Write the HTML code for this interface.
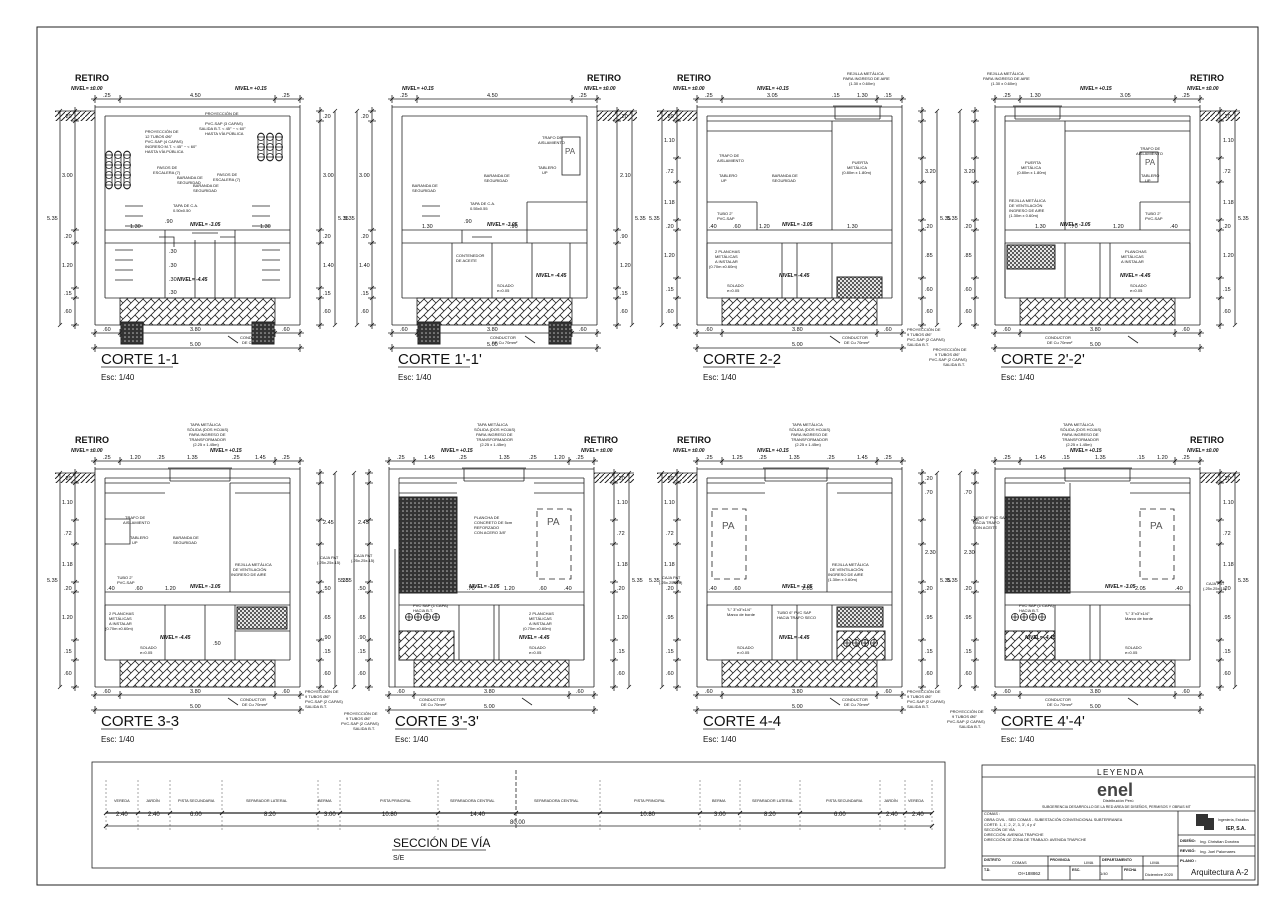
<!DOCTYPE html>
<html><head><meta charset="utf-8">
<style>
html,body{margin:0;padding:0;background:#fff;}
svg{display:block;font-family:"Liberation Sans",sans-serif;}
.s{fill:none;stroke:#222;stroke-width:0.8}
.t{fill:#111;font-size:5.5px}
.m{fill:#111;font-size:4px}
.n{fill:#111;font-size:5px;font-weight:bold;font-style:italic}
.ti{fill:#111;font-size:15px}
.es{fill:#111;font-size:8px}
.r{fill:#111;font-size:9px;font-weight:bold}
</style></head>
<body>
<svg width="1280" height="905" viewBox="0 0 1280 905" xmlns="http://www.w3.org/2000/svg">
<defs>
<pattern id="herr" width="8" height="8" patternUnits="userSpaceOnUse">
<path d="M0 8L8 0M-2 2L2 -2M6 10L10 6M0 0L4 4" stroke="#222" stroke-width="0.8"/>
</pattern>
<pattern id="gnd" width="5" height="5" patternUnits="userSpaceOnUse">
<path d="M0 5L5 0" stroke="#222" stroke-width="1"/>
</pattern>
<pattern id="dense" width="4" height="4" patternUnits="userSpaceOnUse">
<rect width="4" height="4" fill="#333"/><circle cx="2" cy="2" r="0.8" fill="#bbb"/>
</pattern>
<pattern id="mesh" width="4" height="4" patternUnits="userSpaceOnUse">
<path d="M0 0L4 4M4 0L0 4" stroke="#222" stroke-width="0.7"/>
</pattern>
<g id="frame">
<path class="s" stroke-width="1.2" d="M0 -2V218M205 -2V218M0 0H205"/>
<path class="s" stroke-width="1" d="M10 9V191M195 9V191M10 9H195M10 191H195"/>
<path class="s" stroke-width="2" d="M0 218H205"/>
<rect x="25" y="191" width="155" height="27" fill="url(#herr)" stroke="#222" stroke-width="0.8"/>
<path class="s" d="M10 123H195M10 136H195" stroke-width="0.7"/>
<path class="s" d="M-4 226H209M0 222V230M25 222V230M180 222V230M205 222V230M-2 228l4 -4M23 228l4 -4M178 228l4 -4M203 228l4 -4"/>
<path class="s" d="M-4 241H209M0 237V245M205 237V245M-2 243l4 -4M203 243l4 -4"/>
<path class="s" d="M-4 -8H209M0 -12V-4M25 -12V-4M180 -12V-4M205 -12V-4M-2 -6l4 -4M23 -6l4 -4M178 -6l4 -4M203 -6l4 -4"/>
<path class="s" d="M-35 4V218M240 4V218M-37 6l4 -4M-37 220l4 -4M238 6l4 -4M238 220l4 -4"/>
<path class="s" d="M6 260H78"/>
<path class="s" d="M133 229l10 7" stroke-width="0.5"/>
</g>
<g id="vA"><path class="s" d="M0 0V222M-4 4H4M-4 14H4M-4 123H4M-4 136H4M-4 181H4M-4 191H4M-4 218H4M-2 6l4 -4M-2 16l4 -4M-2 125l4 -4M-2 138l4 -4M-2 183l4 -4M-2 193l4 -4M-2 220l4 -4"/></g>
<g id="vB"><path class="s" d="M0 0V222M-4 4H4M-4 14H4M-4 51H4M-4 75H4M-4 113H4M-4 123H4M-4 171H4M-4 191H4M-4 218H4M-2 6l4 -4M-2 16l4 -4M-2 53l4 -4M-2 77l4 -4M-2 115l4 -4M-2 125l4 -4M-2 173l4 -4M-2 193l4 -4M-2 220l4 -4"/></g>
<g id="pc4"><rect x="-3" y="-4" width="6" height="38" rx="3" class="s" stroke-width="0.6"/><circle cx="0" cy="0" r="3.5" class="s"/><circle cx="0" cy="10" r="3.5" class="s"/><circle cx="0" cy="20" r="3.5" class="s"/><circle cx="0" cy="30" r="3.5" class="s"/><path class="s" d="M-4 0H4M-4 10H4M-4 20H4M-4 30H4"/></g>
<g id="pc3"><rect x="-3" y="-4" width="6" height="28" rx="3" class="s" stroke-width="0.6"/><circle cx="0" cy="0" r="3.5" class="s"/><circle cx="0" cy="10" r="3.5" class="s"/><circle cx="0" cy="20" r="3.5" class="s"/><path class="s" d="M-4 0H4M-4 10H4M-4 20H4"/></g>
<g id="p1"><circle cx="0" cy="0" r="3.5" class="s"/><path class="s" d="M-4 0H4M0 -4V4"/></g>
<g id="gl"><rect x="0" y="4" width="40" height="10" fill="url(#gnd)"/><path class="s" stroke-width="1.2" d="M0 4H40"/></g>
<g id="pa"><rect x="0" y="0" width="34" height="70" class="s" stroke-width="1" stroke-dasharray="6 4"/></g>
</defs>
<rect x="37" y="27" width="1221" height="858" fill="none" stroke="#222" stroke-width="1"/>

<!-- ============ CORTE 1-1 ============ -->
<g transform="translate(95,107)">
<use href="#frame"/><use href="#vA" x="-20"/><use href="#vA" x="225"/>
<use href="#gl" x="-40"/>
<text class="r" x="-20" y="-26">RETIRO</text>
<text class="n" x="-24" y="-17">NIVEL=  ±0.00</text><text class="n" x="140" y="-17">NIVEL=  +0.15</text>
<text class="t" x="8" y="-10">.25</text><text class="t" x="95" y="-10">4.50</text><text class="t" x="187" y="-10">.25</text>
<text class="t" x="-31" y="11">.20</text><text class="t" x="-33" y="70">3.00</text><text class="t" x="-31" y="131">.20</text><text class="t" x="-33" y="160">1.20</text><text class="t" x="-31" y="188">.15</text><text class="t" x="-31" y="206">.60</text>
<text class="t" x="228" y="11">.20</text><text class="t" x="228" y="70">3.00</text><text class="t" x="228" y="131">.20</text><text class="t" x="228" y="160">1.40</text><text class="t" x="228" y="188">.15</text><text class="t" x="228" y="206">.60</text>
<text class="t" x="-48" y="113">5.35</text><text class="t" x="243" y="113">5.35</text>
<text class="t" x="8" y="224">.60</text><text class="t" x="95" y="224">3.80</text><text class="t" x="187" y="224">.60</text><text class="t" x="95" y="239">5.00</text>
<text class="m" x="145" y="232">CONDUCTOR</text><text class="m" x="147" y="237">DE Cu 70mm²</text>
<text class="ti" x="6" y="257">CORTE 1-1</text><text class="es" x="6" y="273">Esc: 1/40</text>
<rect x="26" y="215" width="22" height="22" fill="url(#dense)" stroke="#222"/><rect x="157" y="215" width="22" height="22" fill="url(#dense)" stroke="#222"/>
<use href="#pc4" x="14" y="48"/><use href="#pc4" x="23" y="48"/><use href="#pc4" x="32" y="48"/>
<use href="#pc3" x="166" y="30"/><use href="#pc3" x="175" y="30"/><use href="#pc3" x="184" y="30"/>
<path class="s" stroke-width="1.5" d="M30 99H48M30 109H48M30 119H48M157 99H175M157 109H175M157 119H175M20 143H38M20 153H38M20 163H38M20 173H38M167 143H185M167 153H185M167 163H185M167 173H185"/>
<path class="s" d="M70 123V191M140 123V191M100 133V191M120 133V191M64 130H79V140M125 130H140V140"/>
<path class="s" d="M97 126H123" stroke-width="2"/>
<text class="n" x="95" y="119">NIVEL=  -3.05</text><text class="n" x="82" y="174">NIVEL=  -4.45</text>
<text class="m" x="50" y="26">PROYECCIÓN DE</text><text class="m" x="50" y="31">12 TUBOS Ø6"</text><text class="m" x="50" y="36">PVC-SAP (4 CAPAS)</text><text class="m" x="50" y="41">INGRESO M.T. &lt; 45° ~ &lt; 60°</text><text class="m" x="50" y="46">HASTA VÍA PÚBLICA</text>
<text class="m" x="110" y="8">PROYECCIÓN DE</text><text class="m" x="110" y="18">PVC-SAP (3 CAPAS)</text><text class="m" x="104" y="23">SALIDA B.T. &lt; 45° ~ &lt; 60°</text><text class="m" x="110" y="28">HASTA VÍA PÚBLICA</text>
<text class="m" x="62" y="62">PASOS DE</text><text class="m" x="58" y="67">ESCALERA (7)</text><text class="m" x="82" y="72">BARANDA DE</text><text class="m" x="82" y="77">SEGURIDAD</text>
<text class="m" x="122" y="69">PASOS DE</text><text class="m" x="118" y="74">ESCALERA (7)</text><text class="m" x="98" y="80">BARANDA DE</text><text class="m" x="98" y="85">SEGURIDAD</text>
<text class="m" x="78" y="100">TAPA DE C.A.</text><text class="m" x="78" y="105">0.50x0.50</text>
<text class="t" x="35" y="121">1.30</text><text class="t" x="165" y="121">1.30</text><text class="t" x="70" y="116">.90</text><text class="t" x="74" y="146">.30</text><text class="t" x="74" y="160">.30</text><text class="t" x="74" y="174">.30</text><text class="t" x="74" y="187">.30</text>
</g>

<!-- ============ CORTE 1'-1' ============ -->
<g transform="translate(392,107)">
<use href="#frame"/><use href="#vA" x="-20"/><use href="#vA" x="225"/>
<use href="#gl" x="205"/>
<text class="r" x="195" y="-26">RETIRO</text>
<text class="n" x="192" y="-17">NIVEL=  ±0.00</text><text class="n" x="10" y="-17">NIVEL=  +0.15</text>
<text class="t" x="8" y="-10">.25</text><text class="t" x="95" y="-10">4.50</text><text class="t" x="187" y="-10">.25</text>
<text class="t" x="-31" y="11">.20</text><text class="t" x="-33" y="70">3.00</text><text class="t" x="-31" y="131">.20</text><text class="t" x="-33" y="160">1.40</text><text class="t" x="-31" y="188">.15</text><text class="t" x="-31" y="206">.60</text>
<text class="t" x="228" y="11">.20</text><text class="t" x="228" y="70">2.10</text><text class="t" x="228" y="131">.90</text><text class="t" x="228" y="160">1.20</text><text class="t" x="228" y="188">.15</text><text class="t" x="228" y="206">.60</text>
<text class="t" x="-48" y="113">5.35</text><text class="t" x="243" y="113">5.35</text>
<text class="t" x="8" y="224">.60</text><text class="t" x="95" y="224">3.80</text><text class="t" x="187" y="224">.60</text><text class="t" x="95" y="239">5.00</text>
<text class="m" x="98" y="232">CONDUCTOR</text><text class="m" x="100" y="237">DE Cu 70mm²</text>
<text class="ti" x="6" y="257">CORTE 1'-1'</text><text class="es" x="6" y="273">Esc: 1/40</text>
<rect x="26" y="215" width="22" height="22" fill="url(#dense)" stroke="#222"/><rect x="157" y="215" width="22" height="22" fill="url(#dense)" stroke="#222"/>
<rect x="170" y="30" width="18" height="38" class="s"/><text x="173" y="47" font-size="8" fill="#555">PA</text>
<path class="s" d="M135 95H195M135 95V136M60 136V191M100 136V191M140 136V191M178 136V191M70 123V136M80 130H100"/>
<path class="s" stroke-width="1.5" d="M30 99H48M30 109H48"/>
<text class="n" x="95" y="119">NIVEL=  -3.05</text><text class="n" x="144" y="170">NIVEL=  -4.45</text>
<text class="m" x="150" y="32">TRAFO DE</text><text class="m" x="146" y="37">AISLAMIENTO</text><text class="m" x="146" y="62">TABLERO</text><text class="m" x="150" y="67">UP</text>
<text class="m" x="20" y="80">BARANDA DE</text><text class="m" x="20" y="85">SEGURIDAD</text><text class="m" x="92" y="70">BARANDA DE</text><text class="m" x="92" y="75">SEGURIDAD</text>
<text class="m" x="78" y="98">TAPA DE C.A.</text><text class="m" x="78" y="103">0.55x0.55</text>
<text class="t" x="30" y="121">1.30</text><text class="t" x="72" y="116">.90</text><text class="t" x="118" y="121">.90</text>
<text class="m" x="64" y="150">CONTENEDOR</text><text class="m" x="64" y="155">DE ACEITE</text>
<text class="m" x="105" y="180">SOLADO</text><text class="m" x="105" y="185">e=0.05</text>
</g>

<!-- ============ CORTE 2-2 ============ -->
<g transform="translate(697,107)">
<use href="#frame"/><use href="#vB" x="-20"/><use href="#vB" x="225"/>
<use href="#gl" x="-40"/>
<text class="r" x="-20" y="-26">RETIRO</text>
<text class="n" x="-24" y="-17">NIVEL=  ±0.00</text><text class="n" x="60" y="-17">NIVEL=  +0.15</text>
<text class="t" x="8" y="-10">.25</text><text class="t" x="70" y="-10">3.05</text><text class="t" x="135" y="-10">.15</text><text class="t" x="160" y="-10">1.30</text><text class="t" x="187" y="-10">.15</text>
<text class="t" x="-31" y="11">.20</text><text class="t" x="-33" y="35">1.10</text><text class="t" x="-31" y="66">.72</text><text class="t" x="-33" y="97">1.18</text><text class="t" x="-31" y="121">.20</text><text class="t" x="-33" y="150">1.20</text><text class="t" x="-31" y="184">.15</text><text class="t" x="-31" y="206">.60</text>
<text class="t" x="228" y="66">3.20</text><text class="t" x="228" y="121">.20</text><text class="t" x="228" y="150">.85</text><text class="t" x="228" y="184">.60</text><text class="t" x="228" y="206">.60</text>
<text class="t" x="-48" y="113">5.35</text><text class="t" x="243" y="113">5.35</text>
<text class="t" x="8" y="224">.60</text><text class="t" x="95" y="224">3.80</text><text class="t" x="187" y="224">.60</text><text class="t" x="95" y="239">5.00</text>
<text class="m" x="145" y="232">CONDUCTOR</text><text class="m" x="147" y="237">DE Cu 70mm²</text>
<text class="ti" x="6" y="257">CORTE 2-2</text><text class="es" x="6" y="273">Esc: 1/40</text>
<path class="s" d="M138 0V12M183 0V12M138 12H183"/><path class="s" stroke-width="2" d="M136 -1H185"/>
<path class="s" stroke-width="1.5" d="M135 14V123"/>
<rect x="140" y="170" width="45" height="21" fill="url(#mesh)" stroke="#222"/>
<path class="s" d="M10 136V191M85 136V191M100 136V191M135 136V191M10 14H195M10 24H135M60 95V123M10 95H60"/>
<text class="n" x="85" y="119">NIVEL=  -3.05</text><text class="n" x="82" y="170">NIVEL=  -4.45</text>
<text class="m" x="22" y="50">TRAFO DE</text><text class="m" x="20" y="55">AISLAMIENTO</text><text class="m" x="22" y="70">TABLERO</text><text class="m" x="24" y="75">UP</text><text class="m" x="75" y="70">BARANDA DE</text><text class="m" x="75" y="75">SEGURIDAD</text>
<text class="m" x="155" y="57">PUERTA</text><text class="m" x="150" y="62">METÁLICA</text><text class="m" x="145" y="67">(0.80m x 1.80m)</text><text class="m" x="20" y="108">TUBO 2"</text><text class="m" x="20" y="113">PVC-SAP</text>
<text class="m" x="150" y="-32">REJILLA METÁLICA</text><text class="m" x="146" y="-27">PARA INGRESO DE AIRE</text><text class="m" x="152" y="-22">(1.30 x 0.60m)</text>
<text class="m" x="18" y="146">2 PLANCHAS</text><text class="m" x="18" y="151">METÁLICAS</text><text class="m" x="18" y="156">A INSTALAR</text><text class="m" x="12" y="161">(0.70m x0.60m)</text><text class="m" x="30" y="180">SOLADO</text><text class="m" x="30" y="185">e=0.05</text>
<text class="t" x="12" y="121">.40</text><text class="t" x="36" y="121">.60</text><text class="t" x="62" y="121">1.20</text><text class="t" x="150" y="121">1.30</text>
<text class="m" x="210" y="224">PROYECCIÓN DE</text><text class="m" x="210" y="229">9 TUBOS Ø6"</text><text class="m" x="210" y="234">PVC-SAP (2 CAPAS)</text><text class="m" x="210" y="239">SALIDA B.T.</text>
</g>

<!-- ============ CORTE 2'-2' ============ -->
<g transform="translate(995,107)">
<use href="#frame"/><use href="#vB" x="-20"/><use href="#vB" x="225"/>
<use href="#gl" x="205"/>
<text class="r" x="195" y="-26">RETIRO</text>
<text class="n" x="192" y="-17">NIVEL=  ±0.00</text><text class="n" x="85" y="-17">NIVEL=  +0.15</text>
<text class="t" x="8" y="-10">.25</text><text class="t" x="35" y="-10">1.30</text><text class="t" x="125" y="-10">3.05</text><text class="t" x="187" y="-10">.25</text>
<text class="t" x="-31" y="66">3.20</text><text class="t" x="-31" y="121">.20</text><text class="t" x="-31" y="150">.85</text><text class="t" x="-31" y="184">.60</text><text class="t" x="-31" y="206">.60</text>
<text class="t" x="228" y="11">.20</text><text class="t" x="228" y="35">1.10</text><text class="t" x="228" y="66">.72</text><text class="t" x="228" y="97">1.18</text><text class="t" x="228" y="121">.20</text><text class="t" x="228" y="150">1.20</text><text class="t" x="228" y="184">.15</text><text class="t" x="228" y="206">.60</text>
<text class="t" x="-48" y="113">5.35</text><text class="t" x="243" y="113">5.35</text>
<text class="t" x="8" y="224">.60</text><text class="t" x="95" y="224">3.80</text><text class="t" x="187" y="224">.60</text><text class="t" x="95" y="239">5.00</text>
<text class="m" x="50" y="232">CONDUCTOR</text><text class="m" x="52" y="237">DE Cu 70mm²</text>
<text class="ti" x="6" y="257">CORTE 2'-2'</text><text class="es" x="6" y="273">Esc: 1/40</text>
<path class="s" d="M20 0V12M65 0V12M20 12H65"/><path class="s" stroke-width="2" d="M18 -1H67"/>
<path class="s" stroke-width="1.5" d="M70 14V123"/>
<rect x="12" y="138" width="48" height="24" fill="url(#mesh)" stroke="#222"/>
<path class="s" d="M10 136V191M70 136V191M105 136V191M115 136V191M195 136V191M10 14H195M70 24H195M145 95V123M145 95H195"/>
<rect x="145" y="45" width="18" height="30" class="s"/><text x="150" y="58" font-size="8" fill="#555">PA</text>
<text class="n" x="65" y="119">NIVEL=  -3.05</text><text class="n" x="125" y="170">NIVEL=  -4.45</text>
<text class="m" x="145" y="43">TRAFO DE</text><text class="m" x="141" y="48">AISLAMIENTO</text><text class="m" x="146" y="70">TABLERO</text><text class="m" x="150" y="75">UP</text>
<text class="m" x="30" y="57">PUERTA</text><text class="m" x="26" y="62">METÁLICA</text><text class="m" x="22" y="67">(0.80m x 1.80m)</text><text class="m" x="14" y="95">REJILLA METÁLICA</text><text class="m" x="14" y="100">DE VENTILACIÓN</text><text class="m" x="14" y="105">INGRESO DE AIRE</text><text class="m" x="14" y="110">(1.30m x 0.60m)</text>
<text class="m" x="-8" y="-32">REJILLA METÁLICA</text><text class="m" x="-12" y="-27">PARA INGRESO DE AIRE</text><text class="m" x="-4" y="-22">(1.30 x 0.60m)</text>
<text class="m" x="150" y="108">TUBO 2"</text><text class="m" x="150" y="113">PVC-SAP</text>
<text class="m" x="130" y="146">PLANCHAS</text><text class="m" x="126" y="151">METÁLICAS</text><text class="m" x="126" y="156">A INSTALAR</text><text class="m" x="135" y="180">SOLADO</text><text class="m" x="135" y="185">e=0.05</text>
<text class="t" x="40" y="121">1.30</text><text class="t" x="75" y="121">.70</text><text class="t" x="118" y="121">1.20</text><text class="t" x="175" y="121">.40</text>
<text class="m" x="-62" y="244">PROYECCIÓN DE</text><text class="m" x="-60" y="249">9 TUBOS Ø6"</text><text class="m" x="-66" y="254">PVC-SAP (2 CAPAS)</text><text class="m" x="-52" y="259">SALIDA B.T.</text>
</g>

<!-- ============ CORTE 3-3 ============ -->
<g transform="translate(95,469)">
<use href="#frame"/><use href="#vB" x="-20"/><use href="#vB" x="225"/>
<use href="#gl" x="-40"/>
<text class="r" x="-20" y="-26">RETIRO</text>
<text class="n" x="-24" y="-17">NIVEL=  ±0.00</text><text class="n" x="115" y="-17">NIVEL=  +0.15</text>
<text class="t" x="8" y="-10">.25</text><text class="t" x="35" y="-10">1.20</text><text class="t" x="62" y="-10">.25</text><text class="t" x="92" y="-10">1.35</text><text class="t" x="137" y="-10">.25</text><text class="t" x="160" y="-10">1.45</text><text class="t" x="187" y="-10">.25</text>
<text class="t" x="-31" y="11">.20</text><text class="t" x="-33" y="35">1.10</text><text class="t" x="-31" y="66">.72</text><text class="t" x="-33" y="97">1.18</text><text class="t" x="-31" y="121">.20</text><text class="t" x="-33" y="150">1.20</text><text class="t" x="-31" y="184">.15</text><text class="t" x="-31" y="206">.60</text>
<text class="t" x="228" y="55">2.45</text><text class="t" x="228" y="121">.50</text><text class="t" x="228" y="150">.65</text><text class="t" x="228" y="170">.90</text><text class="t" x="228" y="184">.15</text><text class="t" x="228" y="206">.60</text>
<text class="t" x="-48" y="113">5.35</text><text class="t" x="243" y="113">5.35</text>
<text class="t" x="8" y="224">.60</text><text class="t" x="95" y="224">3.80</text><text class="t" x="187" y="224">.60</text><text class="t" x="95" y="239">5.00</text>
<text class="m" x="145" y="232">CONDUCTOR</text><text class="m" x="147" y="237">DE Cu 70mm²</text>
<text class="ti" x="6" y="257">CORTE 3-3</text><text class="es" x="6" y="273">Esc: 1/40</text>
<path class="s" d="M75 0V12M135 0V12M75 12H135"/><path class="s" stroke-width="2" d="M73 -1H137"/>
<path class="s" stroke-width="1.5" d="M135 14V123"/>
<rect x="142" y="138" width="50" height="22" fill="url(#mesh)" stroke="#222"/>
<path class="s" d="M10 136V191M70 136V191M110 136V191M140 136V191M140 162H195M10 14H75M135 14H195M10 24H70M140 24H195M10 50H35V75H10"/>
<text class="n" x="95" y="119">NIVEL=  -3.05</text><text class="n" x="65" y="170">NIVEL=  -4.45</text>
<text class="m" x="30" y="50">TRAFO DE</text><text class="m" x="28" y="55">AISLAMIENTO</text><text class="m" x="35" y="70">TABLERO</text><text class="m" x="37" y="75">UP</text><text class="m" x="78" y="70">BARANDA DE</text><text class="m" x="78" y="75">SEGURIDAD</text>
<text class="m" x="140" y="97">REJILLA METÁLICA</text><text class="m" x="138" y="102">DE VENTILACIÓN</text><text class="m" x="136" y="107">INGRESO DE AIRE</text><text class="m" x="22" y="110">TUBO 2"</text><text class="m" x="22" y="115">PVC-SAP</text>
<text class="m" x="95" y="-43">TAPA METÁLICA</text><text class="m" x="92" y="-38">SÓLIDA (DOS HOJAS)</text><text class="m" x="94" y="-33">PARA INGRESO DE</text><text class="m" x="94" y="-28">TRANSFORMADOR</text><text class="m" x="98" y="-23">(2.25 x 1.45m)</text>
<text class="m" x="225" y="90">CAJA PAT</text><text class="m" x="222" y="95">(.25x.25x.15)</text>
<text class="m" x="14" y="146">2 PLANCHAS</text><text class="m" x="14" y="151">METÁLICAS</text><text class="m" x="14" y="156">A INSTALAR</text><text class="m" x="10" y="161">(0.70m x0.60m)</text><text class="m" x="45" y="180">SOLADO</text><text class="m" x="45" y="185">e=0.05</text>
<text class="t" x="12" y="121">.40</text><text class="t" x="40" y="121">.60</text><text class="t" x="70" y="121">1.20</text><text class="t" x="118" y="176">.50</text>
<text class="m" x="210" y="224">PROYECCIÓN DE</text><text class="m" x="210" y="229">9 TUBOS Ø6"</text><text class="m" x="210" y="234">PVC-SAP (2 CAPAS)</text><text class="m" x="210" y="239">SALIDA B.T.</text>
</g>

<!-- ============ CORTE 3'-3' ============ -->
<g transform="translate(389,469)">
<use href="#frame"/><use href="#vB" x="-20"/><use href="#vB" x="225"/>
<use href="#gl" x="205"/>
<text class="r" x="195" y="-26">RETIRO</text>
<text class="n" x="192" y="-17">NIVEL=  ±0.00</text><text class="n" x="52" y="-17">NIVEL=  +0.15</text>
<text class="t" x="8" y="-10">.25</text><text class="t" x="35" y="-10">1.45</text><text class="t" x="70" y="-10">.25</text><text class="t" x="110" y="-10">1.35</text><text class="t" x="140" y="-10">.25</text><text class="t" x="165" y="-10">1.20</text><text class="t" x="187" y="-10">.25</text>
<text class="t" x="-31" y="55">2.45</text><text class="t" x="-31" y="121">.50</text><text class="t" x="-31" y="150">.65</text><text class="t" x="-31" y="170">.90</text><text class="t" x="-31" y="184">.15</text><text class="t" x="-31" y="206">.60</text>
<text class="t" x="228" y="11">.20</text><text class="t" x="228" y="35">1.10</text><text class="t" x="228" y="66">.72</text><text class="t" x="228" y="97">1.18</text><text class="t" x="228" y="121">.20</text><text class="t" x="228" y="150">1.20</text><text class="t" x="228" y="184">.15</text><text class="t" x="228" y="206">.60</text>
<text class="t" x="-48" y="113">5.35</text><text class="t" x="243" y="113">5.35</text>
<text class="t" x="8" y="224">.60</text><text class="t" x="95" y="224">3.80</text><text class="t" x="187" y="224">.60</text><text class="t" x="95" y="239">5.00</text>
<text class="m" x="30" y="232">CONDUCTOR</text><text class="m" x="32" y="237">DE Cu 70mm²</text>
<text class="ti" x="6" y="257">CORTE 3'-3'</text><text class="es" x="6" y="273">Esc: 1/40</text>
<path class="s" d="M75 0V12M135 0V12M75 12H135"/><path class="s" stroke-width="2" d="M73 -1H137"/>
<rect x="10" y="28" width="58" height="96" fill="url(#dense)" stroke="#222"/>
<rect x="10" y="162" width="55" height="29" fill="url(#herr)" stroke="#222"/>
<use href="#p1" x="20" y="148"/><use href="#p1" x="29" y="148"/><use href="#p1" x="38" y="148"/><use href="#p1" x="47" y="148"/>
<use href="#pa" x="148" y="40"/><text x="158" y="56" font-size="10" fill="#555">PA</text>
<path class="s" d="M70 136V191M105 136V191M110 136V191M195 136V191M10 14H68M145 14H195M10 24H68M145 24H195M6 80V218"/>
<text class="n" x="80" y="119">NIVEL=  -3.05</text><text class="n" x="130" y="170">NIVEL=  -4.45</text>
<text class="m" x="85" y="50">PLANCHA DE</text><text class="m" x="85" y="55">CONCRETO DE 5cm</text><text class="m" x="85" y="60">REFORZADO</text><text class="m" x="85" y="65">CON ACERO 3/8"</text>
<text class="m" x="88" y="-43">TAPA METÁLICA</text><text class="m" x="85" y="-38">SÓLIDA (DOS HOJAS)</text><text class="m" x="87" y="-33">PARA INGRESO DE</text><text class="m" x="87" y="-28">TRANSFORMADOR</text><text class="m" x="91" y="-23">(2.25 x 1.45m)</text>
<text class="m" x="-35" y="88">CAJA PAT</text><text class="m" x="-38" y="93">(.25x.25x.15)</text><text class="m" x="24" y="138">PVC SAP (1 CAPA)</text><text class="m" x="24" y="143">HACIA B.T.</text>
<text class="m" x="140" y="146">2 PLANCHAS</text><text class="m" x="140" y="151">METÁLICAS</text><text class="m" x="140" y="156">A INSTALAR</text><text class="m" x="134" y="161">(0.70m x0.60m)</text><text class="m" x="140" y="180">SOLADO</text><text class="m" x="140" y="185">e=0.05</text>
<text class="t" x="78" y="121">.70</text><text class="t" x="115" y="121">1.20</text><text class="t" x="150" y="121">.60</text><text class="t" x="175" y="121">.40</text>
<text class="m" x="-45" y="246">PROYECCIÓN DE</text><text class="m" x="-43" y="251">9 TUBOS Ø6"</text><text class="m" x="-48" y="256">PVC-SAP (2 CAPAS)</text><text class="m" x="-36" y="261">SALIDA B.T.</text>
</g>

<!-- ============ CORTE 4-4 ============ -->
<g transform="translate(697,469)">
<use href="#frame"/><use href="#vB" x="-20"/><use href="#vB" x="225"/>
<use href="#gl" x="-40"/>
<text class="r" x="-20" y="-26">RETIRO</text>
<text class="n" x="-24" y="-17">NIVEL=  ±0.00</text><text class="n" x="60" y="-17">NIVEL=  +0.15</text>
<text class="t" x="8" y="-10">.25</text><text class="t" x="35" y="-10">1.25</text><text class="t" x="62" y="-10">.25</text><text class="t" x="92" y="-10">1.35</text><text class="t" x="130" y="-10">.25</text><text class="t" x="160" y="-10">1.45</text><text class="t" x="187" y="-10">.25</text>
<text class="t" x="-31" y="11">.20</text><text class="t" x="-33" y="35">1.10</text><text class="t" x="-31" y="66">.72</text><text class="t" x="-33" y="97">1.18</text><text class="t" x="-31" y="121">.20</text><text class="t" x="-31" y="150">.95</text><text class="t" x="-31" y="184">.15</text><text class="t" x="-31" y="206">.60</text>
<text class="t" x="228" y="11">.20</text><text class="t" x="228" y="25">.70</text><text class="t" x="228" y="85">2.30</text><text class="t" x="228" y="121">.20</text><text class="t" x="228" y="150">.95</text><text class="t" x="228" y="184">.15</text><text class="t" x="228" y="206">.60</text>
<text class="t" x="-48" y="113">5.35</text><text class="t" x="243" y="113">5.35</text>
<text class="t" x="8" y="224">.60</text><text class="t" x="95" y="224">3.80</text><text class="t" x="187" y="224">.60</text><text class="t" x="95" y="239">5.00</text>
<text class="m" x="145" y="232">CONDUCTOR</text><text class="m" x="147" y="237">DE Cu 70mm²</text>
<text class="ti" x="6" y="257">CORTE 4-4</text><text class="es" x="6" y="273">Esc: 1/40</text>
<path class="s" d="M68 0V12M130 0V12M68 12H130"/><path class="s" stroke-width="2" d="M66 -1H132"/>
<path class="s" stroke-width="1.5" d="M130 14V123"/>
<rect x="140" y="138" width="46" height="20" fill="url(#mesh)" stroke="#222"/>
<rect x="140" y="162" width="48" height="29" fill="url(#herr)" stroke="#222"/>
<use href="#p1" x="150" y="174"/><use href="#p1" x="159" y="174"/><use href="#p1" x="168" y="174"/><use href="#p1" x="177" y="174"/>
<use href="#pa" x="15" y="40"/><text x="25" y="60" font-size="10" fill="#555">PA</text>
<path class="s" d="M10 136V191M75 136V191M100 136V191M135 136V191M10 14H68M130 14H195M10 24H68M140 24H195"/>
<text class="n" x="85" y="119">NIVEL=  -3.05</text><text class="n" x="82" y="170">NIVEL=  -4.45</text>
<text class="m" x="135" y="97">REJILLA METÁLICA</text><text class="m" x="133" y="102">DE VENTILACIÓN</text><text class="m" x="131" y="107">INGRESO DE AIRE</text><text class="m" x="131" y="112">(1.30m x 0.60m)</text>
<text class="m" x="80" y="145">TUBO 6" PVC SAP</text><text class="m" x="80" y="150">HACIA TRAFO SECO</text>
<text class="m" x="30" y="142">"L" 3"x3"x1/4"</text><text class="m" x="30" y="147">Marco de borde</text><text class="m" x="40" y="180">SOLADO</text><text class="m" x="40" y="185">e=0.05</text>
<text class="t" x="12" y="121">.40</text><text class="t" x="36" y="121">.60</text><text class="t" x="105" y="121">2.05</text>
<text class="m" x="95" y="-43">TAPA METÁLICA</text><text class="m" x="92" y="-38">SÓLIDA (DOS HOJAS)</text><text class="m" x="94" y="-33">PARA INGRESO DE</text><text class="m" x="94" y="-28">TRANSFORMADOR</text><text class="m" x="98" y="-23">(2.25 x 1.45m)</text>
<text class="m" x="-35" y="110">CAJA PAT</text><text class="m" x="-38" y="115">(.25x.25x.15)</text>
<text class="m" x="210" y="224">PROYECCIÓN DE</text><text class="m" x="210" y="229">9 TUBOS Ø6"</text><text class="m" x="210" y="234">PVC-SAP (2 CAPAS)</text><text class="m" x="210" y="239">SALIDA B.T.</text>
</g>

<!-- ============ CORTE 4'-4' ============ -->
<g transform="translate(995,469)">
<use href="#frame"/><use href="#vB" x="-20"/><use href="#vB" x="225"/>
<use href="#gl" x="205"/>
<text class="r" x="195" y="-26">RETIRO</text>
<text class="n" x="192" y="-17">NIVEL=  ±0.00</text><text class="n" x="75" y="-17">NIVEL=  +0.15</text>
<text class="t" x="8" y="-10">.25</text><text class="t" x="40" y="-10">1.45</text><text class="t" x="67" y="-10">.15</text><text class="t" x="100" y="-10">1.35</text><text class="t" x="142" y="-10">.15</text><text class="t" x="162" y="-10">1.20</text><text class="t" x="187" y="-10">.25</text>
<text class="t" x="-31" y="25">.70</text><text class="t" x="-31" y="85">2.30</text><text class="t" x="-31" y="121">.20</text><text class="t" x="-31" y="150">.95</text><text class="t" x="-31" y="184">.15</text><text class="t" x="-31" y="206">.60</text>
<text class="t" x="228" y="11">.20</text><text class="t" x="228" y="35">1.10</text><text class="t" x="228" y="66">.72</text><text class="t" x="228" y="97">1.18</text><text class="t" x="228" y="121">.20</text><text class="t" x="228" y="150">.95</text><text class="t" x="228" y="184">.15</text><text class="t" x="228" y="206">.60</text>
<text class="t" x="-48" y="113">5.35</text><text class="t" x="243" y="113">5.35</text>
<text class="t" x="8" y="224">.60</text><text class="t" x="95" y="224">3.80</text><text class="t" x="187" y="224">.60</text><text class="t" x="95" y="239">5.00</text>
<text class="m" x="50" y="232">CONDUCTOR</text><text class="m" x="52" y="237">DE Cu 70mm²</text>
<text class="ti" x="6" y="257">CORTE 4'-4'</text><text class="es" x="6" y="273">Esc: 1/40</text>
<path class="s" d="M70 0V12M135 0V12M70 12H135"/><path class="s" stroke-width="2" d="M68 -1H137"/>
<rect x="10" y="28" width="65" height="96" fill="url(#dense)" stroke="#222"/>
<rect x="10" y="162" width="50" height="29" fill="url(#herr)" stroke="#222"/>
<use href="#p1" x="20" y="148"/><use href="#p1" x="29" y="148"/><use href="#p1" x="38" y="148"/><use href="#p1" x="47" y="148"/>
<use href="#pa" x="145" y="40"/><text x="155" y="60" font-size="10" fill="#555">PA</text>
<path class="s" stroke-width="1.5" d="M75 14V123"/>
<path class="s" d="M60 136V191M95 136V191M105 136V191M195 136V191M10 14H70M135 14H195M135 24H195"/>
<text class="n" x="110" y="119">NIVEL=  -3.05</text><text class="n" x="30" y="170">NIVEL=  -4.45</text>
<text class="m" x="-22" y="50">TUBO 6" PVC SAP</text><text class="m" x="-22" y="55">HACIA TRAFO</text><text class="m" x="-22" y="60">CON ACEITE</text>
<text class="m" x="130" y="146">"L" 3"x3"x1/4"</text><text class="m" x="130" y="151">Marco de borde</text>
<text class="m" x="211" y="116">CAJA PAT</text><text class="m" x="208" y="121">(.25x.25x.15)</text><text class="m" x="24" y="138">PVC SAP (1 CAPA)</text><text class="m" x="24" y="143">HACIA B.T.</text><text class="m" x="130" y="180">SOLADO</text><text class="m" x="130" y="185">e=0.05</text>
<text class="t" x="140" y="121">2.05</text><text class="t" x="180" y="121">.40</text>
<text class="m" x="68" y="-43">TAPA METÁLICA</text><text class="m" x="65" y="-38">SÓLIDA (DOS HOJAS)</text><text class="m" x="67" y="-33">PARA INGRESO DE</text><text class="m" x="67" y="-28">TRANSFORMADOR</text><text class="m" x="71" y="-23">(2.25 x 1.45m)</text>
<text class="m" x="-45" y="244">PROYECCIÓN DE</text><text class="m" x="-43" y="249">9 TUBOS Ø6"</text><text class="m" x="-48" y="254">PVC-SAP (2 CAPAS)</text><text class="m" x="-36" y="259">SALIDA B.T.</text>
</g>

<!-- Sección de vía -->
<g class="s">
<rect x="92" y="762" width="853" height="106"/>
<path stroke-width="1.2" d="M106 813H932"/>
<path d="M106 826H932"/>
<path d="M516 770V830" stroke-dasharray="4 2"/>
<path d="M392 850H486"/>
<path stroke-width="0.4" stroke-dasharray="2 2" d="M106 780V830M138 780V830M170 780V830M222 780V830M318 780V830M340 780V830M438 780V830M600 780V830M700 780V830M740 780V830M800 780V830M880 780V830M905 780V830M932 780V830"/>
<path stroke-width="1" d="M104 815l4 -4M136 815l4 -4M168 815l4 -4M220 815l4 -4M316 815l4 -4M338 815l4 -4M436 815l4 -4M514 815l4 -4M598 815l4 -4M698 815l4 -4M738 815l4 -4M798 815l4 -4M878 815l4 -4M903 815l4 -4M930 815l4 -4M104 828l4 -4M930 828l4 -4"/>
</g>
<g class="t" font-size="6px">
<text x="116" y="816" font-size="6">2.40</text><text x="148" y="816" font-size="6">2.40</text><text x="190" y="816" font-size="6">6.00</text><text x="264" y="816" font-size="6">8.20</text><text x="324" y="816" font-size="6">3.00</text><text x="382" y="816" font-size="6">10.80</text><text x="470" y="816" font-size="6">14.40</text><text x="640" y="816" font-size="6">10.80</text><text x="714" y="816" font-size="6">3.00</text><text x="764" y="816" font-size="6">8.20</text><text x="834" y="816" font-size="6">6.00</text><text x="886" y="816" font-size="6">2.40</text><text x="912" y="816" font-size="6">2.40</text>
</g>
<g class="m" font-size="3.8px">
<text x="114" y="802" font-size="3.8">VEREDA</text><text x="146" y="802" font-size="3.8">JARDÍN</text><text x="178" y="802" font-size="3.8">PISTA SECUNDARIA</text><text x="246" y="802" font-size="3.8">SEPARADOR LATERAL</text><text x="318" y="802" font-size="3.8">BERMA</text><text x="380" y="802" font-size="3.8">PISTA PRINCIPAL</text><text x="450" y="802" font-size="3.8">SEPARADORA CENTRAL</text><text x="534" y="802" font-size="3.8">SEPARADORA CENTRAL</text><text x="634" y="802" font-size="3.8">PISTA PRINCIPAL</text><text x="712" y="802" font-size="3.8">BERMA</text><text x="752" y="802" font-size="3.8">SEPARADOR LATERAL</text><text x="826" y="802" font-size="3.8">PISTA SECUNDARIA</text><text x="884" y="802" font-size="3.8">JARDÍN</text><text x="908" y="802" font-size="3.8">VEREDA</text>
</g>
<text x="393" y="847" font-size="12" fill="#111">SECCIÓN DE VÍA</text>
<text x="393" y="860" font-size="7" fill="#111">S/E</text>
<text x="510" y="824" font-size="6" fill="#111">80.00</text>

<!-- Leyenda -->
<g class="s">
<rect x="982" y="765" width="273" height="115"/>
<path d="M982 777H1255M982 811H1255M1178 811V880M982 856H1255M982 866H1178M1178 835H1255M1178 846H1255M1048 856V880M1100 856V880M1122 866V880M1143 856V880M1070 866V880"/>
</g>
<g fill="#111">
<text x="1097" y="775" font-size="8" letter-spacing="1.5">LEYENDA</text>
<text x="1097" y="796" font-size="18" fill="#444" font-weight="bold">enel</text>
<text x="1103" y="802" font-size="4">Distribución Perú</text>
<text x="1042" y="808" font-size="3.6">SUBGERENCIA DESARROLLO DE LA RED AREA DE DISEÑOS, PERMISOS Y OBRAS MT</text>
<text x="984" y="815" font-size="3.8">COMAS :</text>
<text x="984" y="821" font-size="3.8">OBRA CIVIL - SED COMAS - SUBESTACIÓN CONVENCIONAL SUBTERRANEA</text>
<text x="984" y="826" font-size="3.8">CORTE: 1, 1', 2, 2', 3, 3', 4 y 4'</text>
<text x="984" y="831" font-size="3.8">SECCIÓN DE VÍA</text>
<text x="984" y="836" font-size="3.8">DIRECCIÓN: AVENIDA TRAPICHE</text>
<text x="984" y="841" font-size="3.8">DIRECCIÓN DE ZONA DE TRABAJO: AVENIDA TRAPICHE</text>
<path d="M1196 814h12v4h6v12h-10v-4h-8z" fill="#333"/>
<text x="1218" y="821" font-size="3.5">Ingeniería, Estudios</text>
<text x="1226" y="830" font-size="5" font-weight="bold">IEP, S.A.</text>
<text x="1180" y="842" font-size="3.8" font-weight="bold">DISEÑO:</text>
<text x="1200" y="843" font-size="4">Ing. Christian Dorotea</text>
<text x="1180" y="852" font-size="3.8" font-weight="bold">REVISÓ:</text>
<text x="1200" y="853" font-size="4">Ing. Joel Palomares</text>
<text x="1180" y="862" font-size="4" font-weight="bold">PLANO :</text>
<text x="1191" y="875" font-size="8">Arquitectura  A-2</text>
<text x="984" y="861" font-size="3.6" font-weight="bold">DISTRITO</text>
<text x="1012" y="864" font-size="4">COMAS</text>
<text x="1050" y="861" font-size="3.6" font-weight="bold">PROVINCIA</text>
<text x="1084" y="864" font-size="4">LIMA</text>
<text x="1102" y="861" font-size="3.6" font-weight="bold">DEPARTAMENTO</text>
<text x="1150" y="864" font-size="4">LIMA</text>
<text x="984" y="871" font-size="3.6" font-weight="bold">T.D.</text>
<text x="1018" y="875" font-size="4.5">OI+188862</text>
<text x="1072" y="871" font-size="3.6" font-weight="bold">ESC.</text>
<text x="1100" y="875" font-size="4">1/40</text>
<text x="1124" y="871" font-size="3.6" font-weight="bold">FECHA</text>
<text x="1145" y="876" font-size="4">Diciembre 2020</text>
</g>
</svg>
</body></html>
